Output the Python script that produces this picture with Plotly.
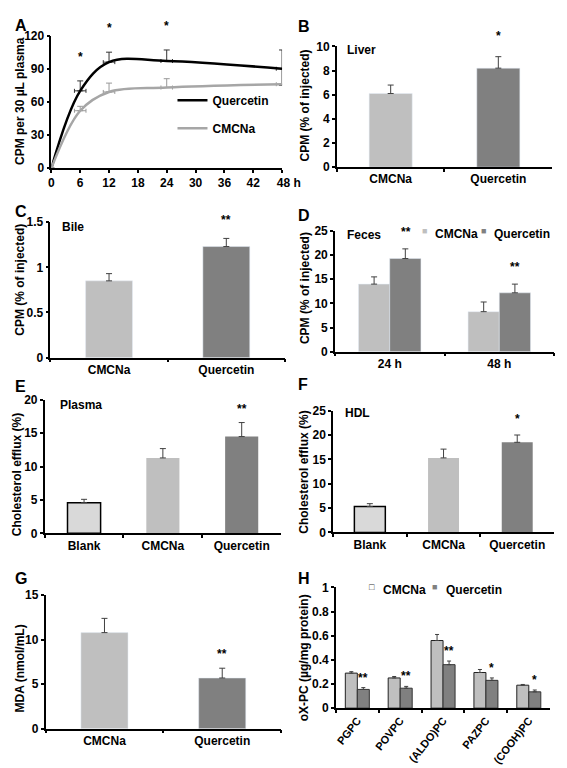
import plotly.graph_objects as go

W, H = 567, 768
FONT = "Liberation Sans, Arial, sans-serif"
LIGHT = "#bfbfbf"
DARK = "#808080"
BLANK = "#d9d9d9"
ERRC = "#404040"

# ---------------- data ----------------
# A: plasma CPM time course
A_time = [0, 6, 12, 24, 48]
A_tick_vals = [0, 6, 12, 18, 24, 30, 36, 42, 48]
A_time_labels = ["0", "6", "12", "18", "24", "30", "36", "42", "\u2007\u200748 h"]
A_quercetin = [0, 70, 96, 97, 90]
A_quercetin_err = [0, 9, 9, 10, 17]
A_quercetin_err_minus = [0, 0, 0, 0, 15]
A_cmcna = [0, 52, 69, 73, 76]
A_cmcna_err = [0, 4, 8, 8, 0]
A_time_err = [0, 1.2, 1.2, 1.2, 1.2]
A_stars = ["", "*", "*", "*", ""]

# B: liver
B_cats = ["CMCNa", "Quercetin"]
B_vals = [6.1, 8.2]
B_err = [0.7, 0.95]
B_stars = ["", "*"]

# C: bile
C_cats = ["CMCNa", "Quercetin"]
C_vals = [0.85, 1.23]
C_err = [0.08, 0.09]
C_stars = ["", "**"]

# D: feces
D_cats = ["24 h", "48 h"]
D_cmcna = [14.0, 8.3]
D_cmcna_err = [1.5, 2.0]
D_quercetin = [19.3, 12.2]
D_quercetin_err = [2.0, 1.8]
D_stars = ["**", "**"]

# E: plasma efflux
E_cats = ["Blank", "CMCNa", "Quercetin"]
E_vals = [4.6, 11.3, 14.5]
E_err = [0.5, 1.4, 2.1]
E_stars = ["", "", "**"]

# F: HDL efflux
F_cats = ["Blank", "CMCNa", "Quercetin"]
F_vals = [5.3, 15.3, 18.5]
F_err = [0.6, 1.8, 1.5]
F_stars = ["", "", "*"]

# G: MDA
G_cats = ["CMCNa", "Quercetin"]
G_vals = [10.8, 5.7]
G_err = [1.6, 1.1]
G_stars = ["", "**"]

# H: oxPC
H_cats = ["PGPC", "POVPC", "(ALDO)PC", "PAZPC", "(COOH)PC"]
H_cmcna = [0.29, 0.25, 0.56, 0.295, 0.19]
H_cmcna_err = [0.012, 0.012, 0.05, 0.025, 0.006]
H_quercetin = [0.155, 0.165, 0.36, 0.23, 0.135]
H_quercetin_err = [0.015, 0.015, 0.03, 0.02, 0.015]
H_stars = ["**", "**", "**", "*", "*"]


def px(x):
    return x / W


def py(y):
    return 1 - y / H


fig = go.Figure()
annotations = []


def err(arr, minus=None, color=ERRC, width=3):
    return dict(type="data", array=arr, arrayminus=minus if minus is not None else [0] * len(arr),
                symmetric=False, color=color, thickness=1, width=width)


def add_stars(xs, tops, stars, ax, dx=0, shift=1):
    for x, t, s in zip(xs, tops, stars):
        if s:
            annotations.append(dict(x=x, y=t, xref="x" + ax, yref="y" + ax, text=s, showarrow=False,
                                    xanchor="center", yanchor="bottom", yshift=shift, xshift=dx,
                                    font=dict(size=12, family=FONT, color="black", weight="bold")))


# ---- A ----
fig.add_trace(go.Scatter(x=A_time, y=A_quercetin, mode="lines", name="Quercetin",
                         line=dict(color="black", width=2.5, shape="spline", smoothing=1.0),
                         error_y=err(A_quercetin_err, A_quercetin_err_minus, "#333333"),
                         error_x=dict(type="data", array=A_time_err, color="#333333", thickness=1, width=2),
                         xaxis="x", yaxis="y", legend="legend", legendgroup="q"))
fig.add_trace(go.Scatter(x=A_time, y=A_cmcna, mode="lines", name="CMCNa",
                         line=dict(color="#a6a6a6", width=2.5, shape="spline", smoothing=1.0),
                         error_y=err(A_cmcna_err, None, "#999999"),
                         error_x=dict(type="data", array=A_time_err, color="#999999", thickness=1, width=2),
                         xaxis="x", yaxis="y", legend="legend", legendgroup="c"))
add_stars(A_time, [v + e for v, e in zip(A_quercetin, A_quercetin_err)], A_stars, "", shift=15)

# ---- B ----
fig.add_trace(go.Bar(x=B_cats, y=B_vals, width=0.4, marker=dict(color=[LIGHT, DARK]),
                     error_y=err(B_err), xaxis="x2", yaxis="y2", showlegend=False))
add_stars(B_cats, [v + e for v, e in zip(B_vals, B_err)], B_stars, "2", shift=12)

# ---- C ----
fig.add_trace(go.Bar(x=C_cats, y=C_vals, width=0.4, marker=dict(color=[LIGHT, DARK]),
                     error_y=err(C_err), xaxis="x3", yaxis="y3", showlegend=False))
add_stars(C_cats, [v + e for v, e in zip(C_vals, C_err)], C_stars, "3", shift=9)

# ---- D ----
fig.add_trace(go.Bar(x=D_cats, y=D_cmcna, width=0.285, offset=-0.285, marker=dict(color=LIGHT),
                     name="CMCNa", error_y=err(D_cmcna_err), xaxis="x4", yaxis="y4", showlegend=False))
fig.add_trace(go.Bar(x=D_cats, y=D_quercetin, width=0.285, offset=0, marker=dict(color=DARK),
                     name="Quercetin", error_y=err(D_quercetin_err), xaxis="x4", yaxis="y4", showlegend=False))
add_stars(D_cats, [v + e for v, e in zip(D_quercetin, D_quercetin_err)], D_stars, "4", dx=16, shift=8)

# ---- E ----
fig.add_trace(go.Bar(x=E_cats, y=E_vals, width=0.42,
                     marker=dict(color=[BLANK, LIGHT, DARK], line=dict(color=["black", LIGHT, DARK], width=[1.5, 0, 0])),
                     error_y=err(E_err), xaxis="x5", yaxis="y5", showlegend=False))
add_stars(E_cats, [v + e for v, e in zip(E_vals, E_err)], E_stars, "5", shift=5)

# ---- F ----
fig.add_trace(go.Bar(x=F_cats, y=F_vals, width=0.42,
                     marker=dict(color=[BLANK, LIGHT, DARK], line=dict(color=["black", LIGHT, DARK], width=[1.5, 0, 0])),
                     error_y=err(F_err), xaxis="x6", yaxis="y6", showlegend=False))
add_stars(F_cats, [v + e for v, e in zip(F_vals, F_err)], F_stars, "6", shift=7)

# ---- G ----
fig.add_trace(go.Bar(x=G_cats, y=G_vals, width=0.4, marker=dict(color=[LIGHT, DARK]),
                     error_y=err(G_err), xaxis="x7", yaxis="y7", showlegend=False))
add_stars(G_cats, [v + e for v, e in zip(G_vals, G_err)], G_stars, "7", shift=5)

# ---- H ----
fig.add_trace(go.Bar(x=H_cats, y=H_cmcna, width=0.28, offset=-0.28, name="CMCNa",
                     marker=dict(color=LIGHT, line=dict(color="#222222", width=1)),
                     error_y=err(H_cmcna_err, width=2), xaxis="x8", yaxis="y8", showlegend=False))
fig.add_trace(go.Bar(x=H_cats, y=H_quercetin, width=0.28, offset=0, name="Quercetin",
                     marker=dict(color=DARK, line=dict(color="#333333", width=1)),
                     error_y=err(H_quercetin_err, width=2), xaxis="x8", yaxis="y8", showlegend=False))
add_stars(H_cats, [v + e for v, e in zip(H_quercetin, H_quercetin_err)], H_stars, "8", dx=6, shift=1)

# ---------------- axes ----------------
tickfont = dict(size=12, family=FONT, color="black", weight="bold")
common = dict(showline=True, linecolor="black", linewidth=1.5, ticks="outside", ticklen=3,
              tickwidth=1.5, tickcolor="black", showgrid=False, zeroline=False, tickfont=tickfont)

domains = {
    "": ((42, 282), (21, 156), (0, 120), 30),
    "2": ((339, 563), (32, 155), (0, 10), 2),
    "3": ((41, 285), (211, 349), (0, 1.5), 0.5),
    "4": ((337, 565), (220, 343), (0, 25), 5),
    "5": ((35, 281), (392, 528), (0, 20), 5),
    "6": ((335, 565), (403, 527), (0, 25), 5),
    "7": ((36, 281), (591, 727), (0, 15), 5),
    "8": ((338, 561), (583, 706), (0, 1), 0.2),
}
layout_axes = {}
for k, ((x0, x1), (y0, y1), yr, dt) in domains.items():
    xa = dict(common, domain=[px(x0), px(x1)], anchor="y" + k)
    if k == "":
        xa.update(range=[0, 48], tickvals=A_tick_vals, ticktext=A_time_labels)
    else:
        xa.update(type="category", tickson="boundaries")
    if k == "8":
        xa.update(tickangle=-52, tickfont=dict(tickfont, size=11))
    ya = dict(common, domain=[py(y1), py(y0)], anchor="x" + k, range=list(yr), dtick=dt)
    layout_axes["xaxis" + k] = xa
    layout_axes["yaxis" + k] = ya

# ---------------- text ----------------
title_font = dict(size=12, family=FONT, color="black", weight="bold")
ytitles = [
    ("CPM per 30 µL plasma", 10, 88),
    ("CPM (% of injected)", 306, 92),
    ("CPM (% of injected)", 9, 270),
    ("CPM (% of injected)", 306, 278),
    ("Cholesterol efflux (%)", 7, 468),
    ("Cholesterol efflux (%)", 304, 466),
    ("MDA (nmol/mL)", 9, 666),
    ("oX-PC (µg/mg protein)", 305, 655),
]
for t, x, y in ytitles:
    annotations.append(dict(text=t, x=px(x), y=py(y), xref="paper", yref="paper", textangle=-90,
                            showarrow=False, xanchor="center", yanchor="middle", font=title_font))

inner = [("Liver", 348, 36), ("Bile", 51, 216), ("Feces", 348, 224), ("Plasma", 49, 397), ("HDL", 345, 405)]
for t, x, y in inner:
    annotations.append(dict(text=t, x=px(x), y=py(y), xref="paper", yref="paper", showarrow=False,
                            xanchor="left", yanchor="middle", font=title_font))

# legends for the grouped bar panels (small square key + label)
keys = [
    (LIGHT, "■", "CMCNa", 430, 439, 223),
    (DARK, "■", "Quercetin", 492, 500, 223),
    ("#333333", "□", "CMCNa", 376, 385, 586),
    (DARK, "■", "Quercetin", 441, 450, 586),
]
for col, sym, t, kx, tx, y in keys:
    annotations.append(dict(text=sym, x=px(kx), y=py(y), xref="paper", yref="paper", showarrow=False,
                            xanchor="center", yanchor="middle", yshift=3,
                            font=dict(size=9, family=FONT, color=col)))
    annotations.append(dict(text=t, x=px(tx), y=py(y), xref="paper", yref="paper", showarrow=False,
                            xanchor="left", yanchor="middle", font=title_font))

letters = [("A", 2, 0), ("B", 296, 1), ("C", 2, 189), ("D", 296, 194), ("E", 2, 368),
           ("F", 296, 366), ("G", 2, 563), ("H", 296, 563)]
for t, x, y in letters:
    annotations.append(dict(text=t, x=px(x), y=py(y), xref="paper", yref="paper", showarrow=False,
                            xanchor="left", yanchor="top", font=dict(size=16, family=FONT, color="black", weight="bold")))

legfont = dict(size=12, family=FONT, color="black", weight="bold")
fig.update_layout(
    width=W, height=H, margin=dict(l=0, r=0, t=0, b=0),
    paper_bgcolor="white", plot_bgcolor="white",
    barmode="overlay",
    font=dict(family=FONT, color="black"),
    annotations=annotations,
    legend=dict(x=px(168), y=py(72), xanchor="left", yanchor="top", orientation="v",
                font=legfont, bgcolor="rgba(0,0,0,0)", itemwidth=30, tracegroupgap=9,
                traceorder="grouped"),
    **layout_axes,
)

fig.write_html("out.html")
